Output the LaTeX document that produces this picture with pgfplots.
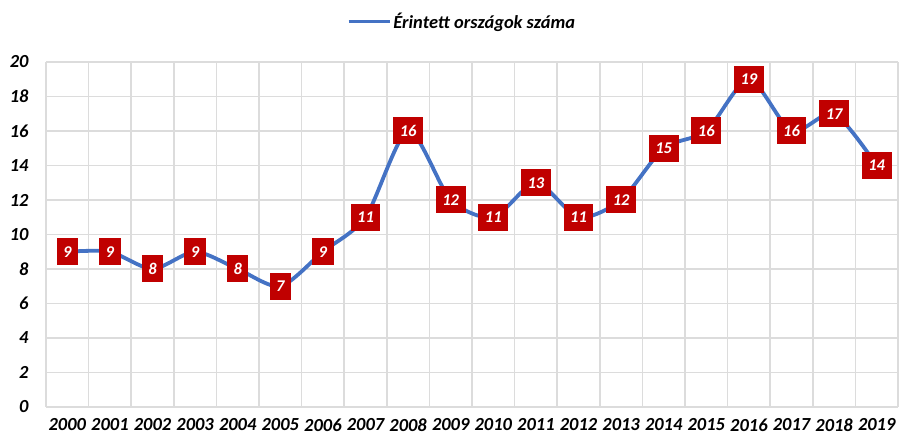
\documentclass[border=0pt]{standalone}
\usepackage{pgfplots}
\pgfplotsset{compat=1.18}
\usepackage{fontspec}
\setmainfont{Carlito}
\definecolor{lineblue}{HTML}{4472C4}
\definecolor{boxred}{HTML}{C00000}
\definecolor{gridgray}{HTML}{DCDCDC}
\begin{document}
\begin{tikzpicture}[x=1bp,y=1bp]
\path[use as bounding box] (0,0) rectangle (901,439);
\begin{axis}[
  at={(46bp,32bp)}, anchor=south west,
  scale only axis, width=852bp, height=345bp,
  xmin=-0.5, xmax=19.5, ymin=0, ymax=20,
  xtick={-0.5,0.5,...,19.5},
  x tick label as interval,
  xticklabels={2000,2001,2002,2003,2004,2005,2006,2007,2008,2009,2010,2011,2012,2013,2014,2015,2016,2017,2018,2019},
  ytick={0,2,...,20},
  xmajorgrids=true, ymajorgrids=true,
  grid style={gridgray, line width=1.5bp},
  axis line style={draw=none},
  major tick length=0pt, minor tick length=0pt,
  tick label style={font=\fontsize{18.5}{20}\selectfont\bfseries\itshape, text=black},
  /pgf/number format/assume math mode=true,
  yticklabel style={anchor=east, xshift=-14bp},
  xticklabel style={yshift=-8bp},
  legend style={at={(0.5,1)}, anchor=south, xshift=-10bp, yshift=28bp, draw=none, fill=none,
    font=\fontsize{18.5}{20}\selectfont\bfseries\itshape, legend cell align=left,
    inner xsep=0pt},
  legend image code/.code={\draw[#1, line width=3.5bp] (-4bp,0bp) -- (37bp,0bp);},
  clip=false,
]
\addplot[lineblue, line width=3.8bp, smooth, tension=0.45,
  nodes near coords, nodes near coords align={center},
  every node near coord/.append style={anchor=center, fill=boxred, text=white,
    font=\fontsize{16.5}{18}\selectfont\bfseries\itshape,
    minimum height=27bp, inner xsep=6.5bp, inner ysep=1bp},
] coordinates {
(0,9) (1,9) (2,8) (3,9) (4,8) (5,7) (6,9) (7,11) (8,16) (9,12)
(10,11) (11,13) (12,11) (13,12) (14,15) (15,16) (16,19) (17,16) (18,17) (19,14)
};
\addlegendentry{Érintett országok száma}
\end{axis}
\end{tikzpicture}
\end{document}
